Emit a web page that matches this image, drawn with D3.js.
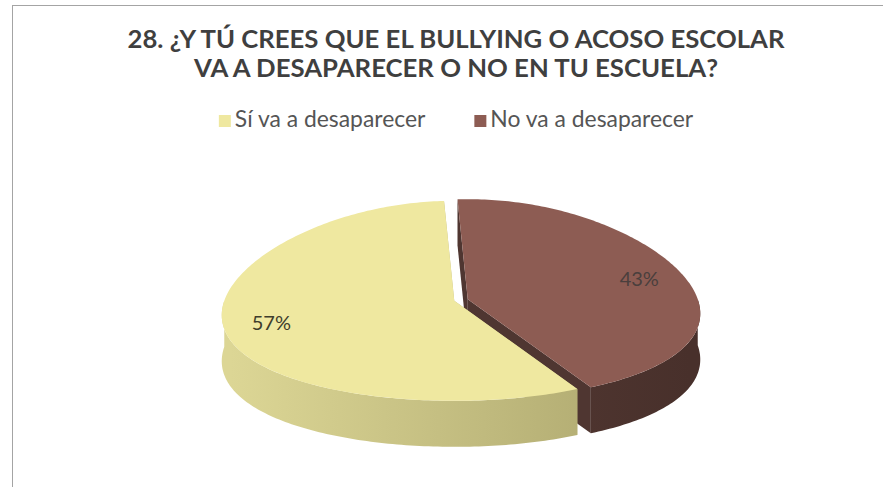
<!DOCTYPE html>
<html>
<head>
<meta charset="utf-8">
<script src="https://cdn.jsdelivr.net/npm/d3@7"></script>
<style>
    body { margin: 0; background: #fff; }
    svg { display: block; }
</style>
</head>
<body>
<div id="chart"></div>
<script>
// chart data
const titleLines = ["28. ¿Y TÚ CREES QUE EL BULLYING O ACOSO ESCOLAR", "VA A DESAPARECER O NO EN TU ESCUELA?"];
const categories = ["Sí va a desaparecer", "No va a desaparecer"];
const percentages = [57, 43];

class Pie3DVis {
    constructor(_parentElement, _categories, _values) {
        this.parentElement = _parentElement;
        this.categories = _categories;
        this.values = _values;

        this.initVis();
    }

    initVis() {
        let vis = this;

        vis.width = 883;
        vis.height = 487;

        vis.svg = d3.select("#" + vis.parentElement).append("svg")
            .attr("width", vis.width)
            .attr("height", vis.height);

        // scanned frame (only left and top edges show)
        vis.svg.append("rect")
            .attr("x", 12.5).attr("y", 5.5)
            .attr("width", 900).attr("height", 500)
            .attr("fill", "none")
            .attr("stroke", "#a4a4a4")
            .attr("stroke-width", 1);

        vis.colorTop = d3.scaleOrdinal().domain(vis.categories).range(["#efe8a0", "#8d5c53"]);
        vis.colorCut = d3.scaleOrdinal().domain(vis.categories).range(["#bdb77c", "#4f3631"]);
        vis.wallStops = d3.scaleOrdinal().domain(vis.categories)
            .range([["#dcd695", "#a9a36b"], ["#5f423b", "#48302b"]]);

        // title (original font is narrower, so squeeze to its widths)
        let titleWidths = [657, 524];
        let title = vis.svg.append("g").attr("class", "title");
        titleLines.forEach(function(line, i) {
            title.append("text")
                .attr("x", 456)
                .attr("y", 48 + i * 29)
                .attr("text-anchor", "middle")
                .attr("font-family", "Lato, 'Open Sans', sans-serif")
                .attr("font-weight", "bold")
                .attr("font-size", 25.5)
                .attr("fill", "#3f3f3f")
                .attr("textLength", titleWidths[i])
                .attr("lengthAdjust", "spacingAndGlyphs")
                .text(line);
        });

        vis.wrangleData();
    }

    wrangleData() {
        let vis = this;

        vis.total = d3.sum(vis.values);
        vis.data = vis.categories.map(function(c, i) {
            return {category: c, value: vis.values[i], label: Math.round(vis.values[i] / vis.total * 100) + "%"};
        });

        // first slice ends just left of 12 o'clock, clockwise like the original
        let firstShare = vis.values[0] / vis.total * 2 * Math.PI;
        let endFirst = -3 * Math.PI / 180 + 2 * Math.PI;
        let start = endFirst - firstShare;

        vis.pie = d3.pie()
            .sort(null)
            .value(d => d.value)
            .startAngle(start)
            .endAngle(start + 2 * Math.PI);

        vis.arcs = vis.pie(vis.data);

        vis.updateVis();
    }

    updateVis() {
        let vis = this;

        const cx = 461, cy = 300;
        const rx = 230, ry = 100;
        const depth = 46;
        const explode = 7;
        const persp = 0.15;

        // point on the tilted disc, with a little perspective (front wider)
        function project(angle, r, off) {
            let ex = r * rx * Math.sin(angle);
            let ey = -r * ry * Math.cos(angle);
            let f = 1 + persp * (ey / ry);
            return [cx + off[0] + ex * f, cy + off[1] + ey];
        }

        function sampleArc(a0, a1, off) {
            let n = Math.max(2, Math.ceil(Math.abs(a1 - a0) / (Math.PI / 180)));
            let pts = [];
            for (let i = 0; i <= n; i++) {
                pts.push(project(a0 + (a1 - a0) * i / n, 1, off));
            }
            return pts;
        }

        const line = d3.line();
        let defs = vis.svg.append("defs");
        let pieG = vis.svg.append("g").attr("class", "pie");

        // draw back slice (second) first, then the front one
        let order = vis.arcs.slice().reverse();

        order.forEach(function(d, idx) {
            let mid = (d.startAngle + d.endAngle) / 2;
            let off = [explode * Math.sin(mid), -explode * Math.cos(mid) * ry / rx];
            let apex = project(0, 0, off);
            let down = p => [p[0], p[1] + depth];
            let g = pieG.append("g");

            // cut faces
            [d.startAngle, d.endAngle].forEach(function(a) {
                let p = project(a, 1, off);
                g.append("path")
                    .attr("d", line([apex, p, down(p), down(apex)]) + "Z")
                    .attr("fill", vis.colorCut(d.data.category));
            });

            // outer wall, only the part that faces the viewer
            let gradId = "wall" + idx;
            let stops = vis.wallStops(d.data.category);
            let grad = defs.append("linearGradient")
                .attr("id", gradId)
                .attr("gradientUnits", "userSpaceOnUse")
                .attr("x1", cx - rx).attr("x2", cx + rx)
                .attr("y1", 0).attr("y2", 0);
            grad.append("stop").attr("offset", "0%").attr("stop-color", stops[0]);
            grad.append("stop").attr("offset", "100%").attr("stop-color", stops[1]);

            for (let k = -1; k <= 2; k++) {
                let v0 = Math.PI / 2 + 2 * Math.PI * k;
                let v1 = 3 * Math.PI / 2 + 2 * Math.PI * k;
                let a0 = Math.max(d.startAngle, v0);
                let a1 = Math.min(d.endAngle, v1);
                if (a1 > a0) {
                    let topPts = sampleArc(a0, a1, off);
                    let botPts = topPts.map(down).reverse();
                    g.append("path")
                        .attr("d", line(topPts.concat(botPts)) + "Z")
                        .attr("fill", "url(#" + gradId + ")");
                }
            }

            // top face
            let topFace = [apex].concat(sampleArc(d.startAngle, d.endAngle, off));
            g.append("path")
                .attr("d", line(topFace) + "Z")
                .attr("fill", vis.colorTop(d.data.category));

            // data label
            let lp = project(mid, 0.8, off);
            g.append("text")
                .attr("x", lp[0])
                .attr("y", lp[1])
                .attr("text-anchor", "middle")
                .attr("dominant-baseline", "central")
                .attr("font-family", "Lato, 'Open Sans', sans-serif")
                .attr("font-size", 20)
                .attr("fill", idx === 0 ? "#4a3f3d" : "#3e3d2c")
                .text(d.data.label);
        });

        // legend
        let legend = vis.svg.append("g").attr("class", "legend");
        let items = legend.selectAll("g")
            .data(vis.categories)
            .enter().append("g");

        items.append("rect")
            .attr("y", 115)
            .attr("width", 12)
            .attr("height", 12)
            .attr("fill", d => vis.colorTop(d));

        let texts = items.append("text")
            .attr("x", 16)
            .attr("y", 127)
            .attr("font-family", "Lato, 'Open Sans', sans-serif")
            .attr("font-size", 20)
            .attr("fill", "#555555")
            .text(d => d);

        // scale legend text to the original width of the second entry
        let w2 = texts.nodes()[1].getComputedTextLength();
        texts.attr("font-size", 20 * 203 / w2);

        let widths = texts.nodes().map(n => 16 + n.getComputedTextLength());
        let gap = 49;
        let totalW = d3.sum(widths) + gap * (widths.length - 1);
        let x = 456 - totalW / 2;
        items.each(function(d, i) {
            d3.select(this).attr("transform", "translate(" + x + ",0)");
            x += widths[i] + gap;
        });
    }
}

new Pie3DVis("chart", categories, percentages);
</script>
</body>
</html>
